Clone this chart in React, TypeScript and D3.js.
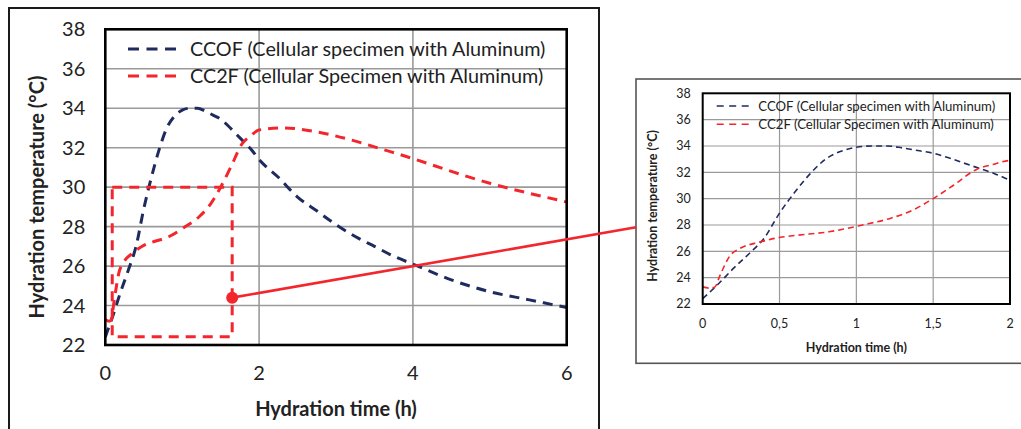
import React from 'react';
import * as d3 from 'd3';

// hydration time (h) and temperature (°C)
const ccofTime = [0, 0.1, 0.2, 0.3, 0.4, 0.5, 0.6, 0.7, 0.8, 0.9, 1.0, 1.1, 1.2, 1.3, 1.4, 1.5, 1.6, 1.7, 1.8, 1.9, 2.0, 2.25, 2.5, 2.75, 3.0, 3.25, 3.5, 3.75, 4.0, 4.5, 5.0, 5.5, 6.0];
const ccofTemp = [22.4, 23.5, 24.7, 25.8, 27.0, 28.9, 30.5, 31.9, 33.0, 33.6, 33.9, 34.0, 34.0, 33.85, 33.65, 33.45, 33.1, 32.7, 32.3, 31.9, 31.4, 30.5, 29.5, 28.8, 28.1, 27.5, 27.0, 26.5, 26.1, 25.3, 24.7, 24.3, 23.9];

const cc2fTime = [0, 0.05, 0.08, 0.11, 0.18, 0.24, 0.37, 0.5, 0.6, 0.83, 1.04, 1.22, 1.37, 1.5, 1.63, 1.78, 1.89, 2.0, 2.32, 2.75, 3.19, 3.62, 4.0, 4.5, 5.0, 5.5, 6.0];
const cc2fTemp = [23.3, 23.2, 23.3, 24.1, 25.7, 26.2, 26.7, 27.05, 27.2, 27.5, 28.0, 28.5, 29.15, 30.0, 31.0, 32.2, 32.6, 32.9, 33.0, 32.8, 32.4, 31.9, 31.45, 30.8, 30.2, 29.7, 29.25];

const seriesNames = ['CCOF (Cellular specimen with Aluminum)', 'CC2F (Cellular Specimen with Aluminum)'];
const seriesColors = ['#1f2b5e', '#f2262c'];

const yTicks = [22, 24, 26, 28, 30, 32, 34, 36, 38];
const mainXTicks = [0, 2, 4, 6];
const insetXTicks = [0, 0.5, 1, 1.5, 2];
const insetXLabels = ['0', '0,5', '1', '1,5', '2'];

// zoom box drawn on the main chart (time range, temperature range) and the marker
const zoomBoxTime = [0.09, 1.65];
const zoomBoxTemp = [22.42, 30];
const markerPoint = [1.65, 24.4];

const font = 'Lato, "Open Sans", sans-serif';

type Pt = [number, number];
const ccof: Pt[] = ccofTime.map((t, i) => [t, ccofTemp[i]]);
const cc2f: Pt[] = cc2fTime.map((t, i) => [t, cc2fTemp[i]]);

function Panel(props: {
  left: number; top: number; right: number; bottom: number;
  xDomain: [number, number]; xTicks: number[]; xLabels: string[];
  big: boolean; children?: (x: any, y: any) => React.ReactNode;
}) {
  const { left, top, right, bottom, xDomain, xTicks, xLabels, big } = props;
  const x = d3.scaleLinear().domain(xDomain).range([left, right]);
  const y = d3.scaleLinear().domain([22, 38]).range([bottom, top]);
  const clipId = big ? 'clipMain' : 'clipInset';
  const line = d3.line<Pt>().x(d => x(d[0])).y(d => y(d[1])).curve(d3.curveMonotoneX);
  const dash = big ? '10,7' : '6,4';
  const lw = big ? 3 : 1.6;

  return (
    <g>
      <defs>
        <clipPath id={clipId}>
          <rect x={left} y={top - 4} width={right - left} height={bottom - top + 8} />
        </clipPath>
      </defs>
      {yTicks.slice(1, -1).map(v => (
        <line key={'gy' + v} x1={left} x2={right} y1={y(v)} y2={y(v)} stroke="#9a9a9a" strokeWidth={big ? 1.6 : 1.2} />
      ))}
      {xTicks.slice(1, -1).map(v => (
        <line key={'gx' + v} x1={x(v)} x2={x(v)} y1={top} y2={bottom} stroke="#9a9a9a" strokeWidth={big ? 1.6 : 1.2} />
      ))}
      <g clipPath={`url(#${clipId})`}>
        <path d={line(ccof) || ''} fill="none" stroke={seriesColors[0]} strokeWidth={lw} strokeDasharray={dash} />
        <path d={line(cc2f) || ''} fill="none" stroke={seriesColors[1]} strokeWidth={lw} strokeDasharray={dash} />
      </g>
      <rect x={left} y={top} width={right - left} height={bottom - top} fill="none" stroke="#000" strokeWidth={big ? 2.6 : 2} />
      {yTicks.map(v => (
        <text key={'ty' + v} x={left - (big ? 20 : 12)} y={y(v)} dy="0.35em" textAnchor="end"
          fontSize={big ? 20 : 12.5} fill="#222" fontFamily={font}>{v}</text>
      ))}
      {xTicks.map((v, i) => (
        <text key={'tx' + v} x={x(v)} y={bottom + (big ? 35 : 24)} textAnchor="middle"
          fontSize={big ? 20 : 12.5} fill="#222" fontFamily={font}>{xLabels[i]}</text>
      ))}
      <text x={(left + right) / 2} y={bottom + (big ? 71 : 48)} textAnchor="middle" fontWeight="bold"
        fontSize={big ? 20 : 12.5} fill="#222" fontFamily={font}>Hydration time (h)</text>
      <text transform={`translate(${big ? 44 : 657},${big ? 197 : 206}) rotate(-90)`} textAnchor="middle" fontWeight="bold"
        fontSize={big ? 20 : 12.5} fill="#222" fontFamily={font}>Hydration temperature (°C)</text>
      {seriesNames.map((name, i) => {
        const ly = big ? 49 + i * 27 : 106 + i * 18.3;
        const lx = big ? 128 : 716.7;
        const len = big ? 48 : 32;
        return (
          <g key={name}>
            <line x1={lx} x2={lx + len} y1={ly} y2={ly} stroke={seriesColors[i]} strokeWidth={lw}
              strokeDasharray={big ? '11,7.5' : '7,5.5'} />
            <text x={lx + (big ? 62 : 41.6)} y={ly} dy="0.35em" fontSize={big ? 19.8 : 13.2}
              fill="#222" fontFamily={font}>{name}</text>
          </g>
        );
      })}
      {props.children ? props.children(x, y) : null}
    </g>
  );
}

export default function App() {
  const insetLeft = 636;
  const insetConnectY = 227.3;
  return (
    <svg width={1021} height={429} style={{ position: 'absolute', left: 0, top: 0, background: '#fff' }}>
      <rect x={0} y={0} width={1021} height={429} fill="#fff" />
      {/* outer frames */}
      <rect x={9} y={8} width={590} height={440} fill="none" stroke="#1a1a1a" strokeWidth={2} />
      <rect x={insetLeft} y={79} width={420} height={284.3} fill="none" stroke="#555" strokeWidth={1.6} />
      <Panel left={105.3} top={29.3} right={566.7} bottom={345} xDomain={[0, 6]}
        xTicks={mainXTicks} xLabels={mainXTicks.map(String)} big={true}>
        {(x, y) => (
          <g>
            <rect x={x(zoomBoxTime[0])} y={y(zoomBoxTemp[1])} width={x(zoomBoxTime[1]) - x(zoomBoxTime[0])}
              height={y(zoomBoxTemp[0]) - y(zoomBoxTemp[1])} fill="none" stroke={seriesColors[1]}
              strokeWidth={3} strokeDasharray="10,7" />
            <line x1={x(markerPoint[0])} y1={y(markerPoint[1])} x2={insetLeft} y2={insetConnectY}
              stroke={seriesColors[1]} strokeWidth={2.6} />
            <circle cx={x(markerPoint[0])} cy={y(markerPoint[1])} r={6} fill={seriesColors[1]} />
          </g>
        )}
      </Panel>
      <Panel left={702.7} top={93.3} right={1010} bottom={304} xDomain={[0, 2]}
        xTicks={insetXTicks} xLabels={insetXLabels} big={false} />
    </svg>
  );
}
